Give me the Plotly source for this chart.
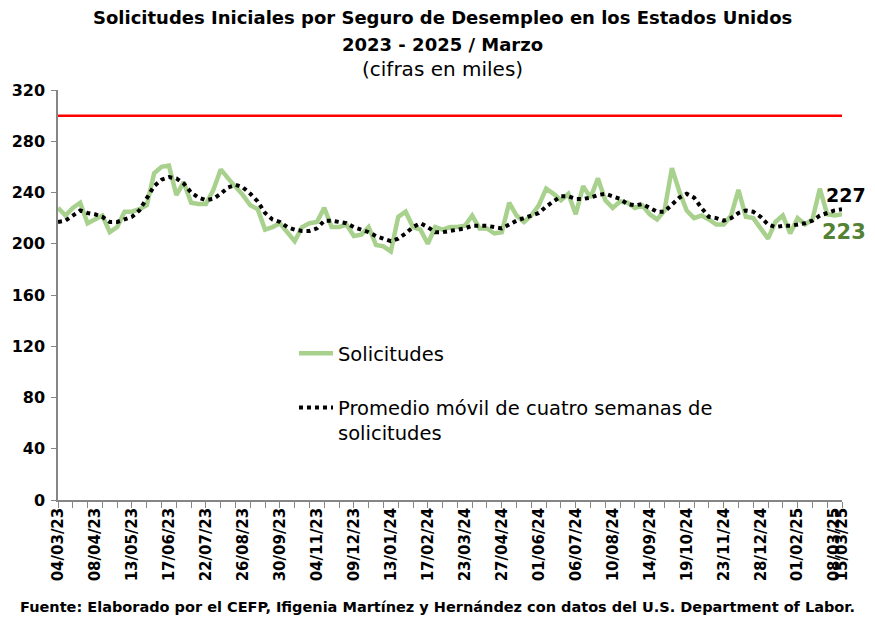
import pandas as pd
import plotly.graph_objects as go

# ---- data ----
fecha_inicio = "2023-03-04"
n_semanas = 107
solicitudes = [228, 222, 228, 232, 216, 219, 222, 209, 213, 225,
               225, 227, 230, 255, 260, 261, 238, 248, 232, 231,
               231, 242, 258, 251, 245, 238, 230, 227, 211, 213,
               216, 209, 202, 213, 216, 217, 228, 213, 213, 215,
               206, 207, 213, 199, 198, 194, 221, 225, 213, 211,
               200, 213, 211, 213, 213, 214, 222, 212, 212, 208,
               209, 232, 222, 217, 222, 230, 243, 239, 234, 239,
               223, 245, 236, 251, 234, 228, 233, 232, 228, 230,
               223, 219, 226, 259, 241, 226, 220, 222, 219, 215,
               215, 222, 242, 221, 220, 212, 204, 217, 222, 208,
               220, 215, 219, 243, 223, 222, 223]
promedio_movil = [217, 218, 222, 226, 224, 223, 221, 217, 217, 219,
                  221, 226, 235, 245, 250, 252, 251, 247, 240, 236,
                  234, 235, 239, 244, 246, 244, 239, 233, 224, 219,
                  217, 213, 211, 210, 210, 212, 218, 218, 217, 216,
                  213, 211, 209, 206, 204, 202, 204, 208, 213, 216,
                  213, 209, 209, 210, 211, 212, 214, 214, 214, 213,
                  212, 215, 218, 220, 222, 224, 229, 233, 237, 237,
                  235, 235, 236, 238, 239, 237, 235, 231, 230, 231,
                  228, 225, 225, 230, 236, 239, 236, 228, 221, 220,
                  218, 220, 224, 226, 225, 221, 215, 213, 214, 214,
                  215, 216, 218, 222, 224, 226, 227]
umbral = 300
etiquetas = ["04/03/23", "08/04/23", "13/05/23", "17/06/23", "22/07/23",
             "26/08/23", "30/09/23", "04/11/23", "09/12/23", "13/01/24",
             "17/02/24", "23/03/24", "27/04/24", "01/06/24", "06/07/24",
             "10/08/24", "14/09/24", "19/10/24", "23/11/24", "28/12/24",
             "01/02/25", "08/03/25", "15/03/25"]
y_ticks = [0, 40, 80, 120, 160, 200, 240, 280, 320]

fechas = pd.date_range(fecha_inicio, periods=n_semanas, freq="7D")
pos_etiquetas = pd.to_datetime(etiquetas, format="%d/%m/%y")

FONT = "DejaVu Sans"
VERDE = "#A9D18E"
VERDE_OSC = "#548235"

fig = go.Figure()
fig.add_trace(go.Scatter(
    x=fechas, y=solicitudes, mode="lines", name="Solicitudes",
    line=dict(color=VERDE, width=4.5), legendgroup="a"))
fig.add_trace(go.Scatter(
    x=fechas, y=promedio_movil, mode="lines",
    name="Promedio móvil de cuatro semanas de<br>solicitudes",
    line=dict(color="black", width=4, dash="4px,4px"), legendgroup="b"))

fig.add_hline(y=umbral, line=dict(color="#FF0000", width=2.5), layer="below")

fig.add_annotation(x=fechas[-1], y=238, text="<b>%d</b>" % promedio_movil[-1],
                   showarrow=False, xanchor="center", xshift=4,
                   font=dict(family=FONT, size=19, color="black"))
fig.add_annotation(x=fechas[-1], y=209, text="<b>%d</b>" % solicitudes[-1],
                   showarrow=False, xanchor="center", xshift=2,
                   font=dict(family=FONT, size=21, color=VERDE_OSC))

fig.add_annotation(xref="paper", yref="paper", x=0.490, y=1.176, yanchor="middle",
                   text="<b>Solicitudes Iniciales por Seguro de Desempleo en los Estados Unidos</b>",
                   showarrow=False, font=dict(family=FONT, size=18, color="black"))
fig.add_annotation(xref="paper", yref="paper", x=0.490, y=1.110, yanchor="middle",
                   text="<b>2023 - 2025 / Marzo</b>",
                   showarrow=False, font=dict(family=FONT, size=18, color="black"))
fig.add_annotation(xref="paper", yref="paper", x=0.490, y=1.050, yanchor="middle",
                   text="(cifras en miles)",
                   showarrow=False, font=dict(family=FONT, size=20, color="black"))
fig.add_annotation(xref="paper", yref="paper", x=0.484, y=-0.260, yanchor="middle",
                   text="<b>Fuente: Elaborado por el CEFP, Ifigenia Martínez y Hernández con datos del U.S. Department of Labor.</b>",
                   showarrow=False, font=dict(family=FONT, size=14.5, color="black"))

fig.update_layout(
    width=875, height=619,
    margin=dict(l=50, r=41, t=82, b=127),
    paper_bgcolor="white", plot_bgcolor="white",
    font=dict(family=FONT, color="black"),
    showlegend=True,
    legend=dict(x=0.301, y=0.405, xanchor="left", yanchor="top",
                bgcolor="rgba(0,0,0,0)", font=dict(family=FONT, size=19.5),
                traceorder="grouped", tracegroupgap=26, valign="top",
                itemwidth=34),
    xaxis=dict(
        type="date", range=[fechas[0], fechas[-1]], automargin=False,
        tickmode="array", tickvals=pos_etiquetas, ticktext=["<b>%s</b>" % t for t in etiquetas],
        tickangle=-90, ticks="", showgrid=False, zeroline=False,
        showline=True, linecolor="#868686", linewidth=1.5,
        tickfont=dict(family=FONT, size=15),
        minor=dict(ticks="outside", tick0=fechas[0], dtick=14 * 86400000,
                   ticklen=6, tickcolor="#868686", showgrid=False),
    ),
    yaxis=dict(
        range=[0, 320], automargin=False, tickmode="array", tickvals=y_ticks,
        ticktext=["<b>%d</b>" % v for v in y_ticks],
        ticks="outside", ticklen=5, tickcolor="#868686",
        ticklabelstandoff=3,
        showgrid=False, zeroline=False,
        showline=True, linecolor="#868686", linewidth=1.5,
        tickfont=dict(family=FONT, size=16),
    ),
)

fig.write_html("out.html")
